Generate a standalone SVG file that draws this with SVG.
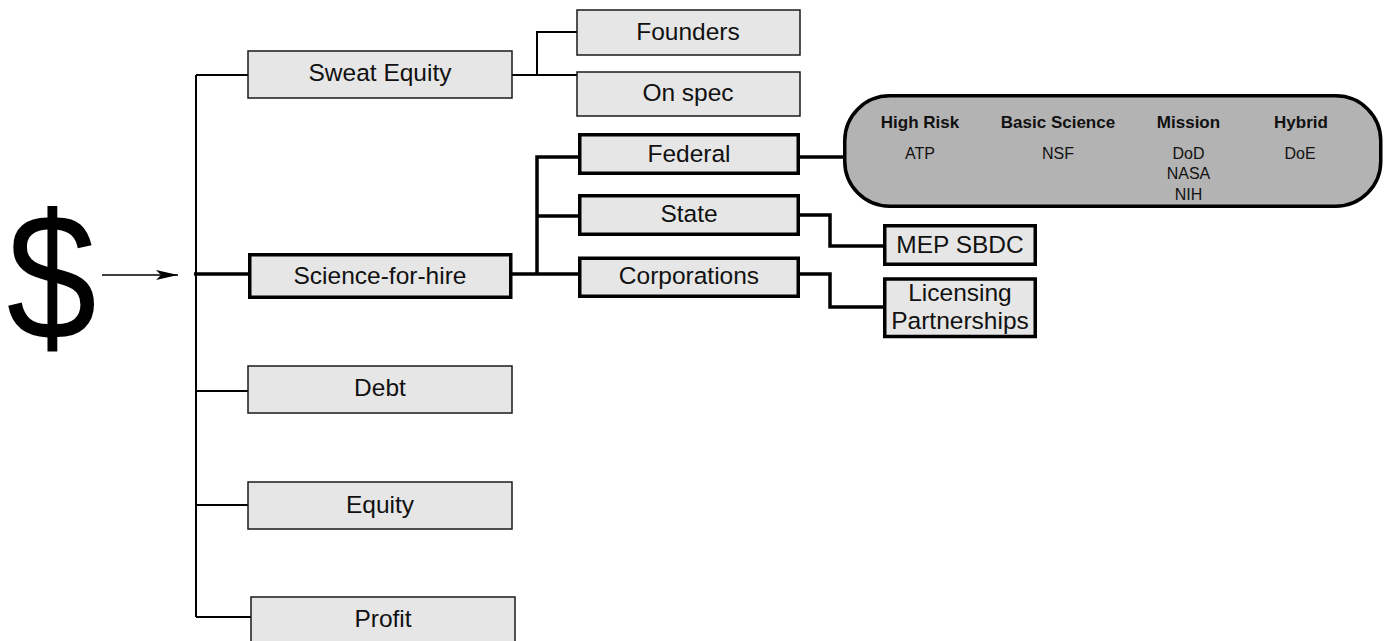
<svg xmlns="http://www.w3.org/2000/svg" width="1394" height="641" viewBox="0 0 1394 641">
  <style>
    .box { fill: #e6e6e6; stroke: #1a1a1a; stroke-width: 1.5; }
    .boxb { fill: #e6e6e6; stroke: #000; stroke-width: 3.5; }
    .lbl { font-family: "Liberation Sans", Arial, sans-serif; font-size: 24.5px; fill: #111; text-anchor: middle; }
    .thin { fill: none; stroke: #000; stroke-width: 2; }
    .thick { fill: none; stroke: #000; stroke-width: 3.5; }
    .hd { font-family: "Liberation Sans", Arial, sans-serif; font-size: 17px; font-weight: bold; fill: #111; text-anchor: middle; }
    .sm { font-family: "Liberation Sans", Arial, sans-serif; font-size: 16px; fill: #111; text-anchor: middle; }
  </style>
  <defs>
    <marker id="arrow" markerWidth="22" markerHeight="10" refX="22" refY="5" orient="auto" markerUnits="userSpaceOnUse">
      <path d="M0,0 L22,5 L0,10 L5,5 Z" fill="#000"/>
    </marker>
  </defs>
  <rect width="1394" height="641" fill="#fff"/>

  <!-- source symbol -->
  <g id="dollar" transform="translate(51.5,0) scale(0.9,1)">
    <text x="0" y="339" font-family="Liberation Sans, Arial, sans-serif" font-size="180" text-anchor="middle" fill="#000">$</text>
  </g>

  <!-- connectors -->
  <g id="connectors">
    <line x1="102" y1="275" x2="178" y2="275" stroke="#000" stroke-width="1.6" marker-end="url(#arrow)"/>
    <!-- main trunk -->
    <path class="thin" d="M196,75 V617"/>
    <path class="thin" d="M196,75 H248"/>
    <path class="thin" d="M196,391 H248"/>
    <path class="thin" d="M196,505 H248"/>
    <path class="thin" d="M196,617 H251"/>
    <path class="thick" d="M194,274 H248"/>
    <!-- sweat equity branch -->
    <path class="thin" d="M512,75 H577"/>
    <path class="thin" d="M537,75 V32 H577"/>
    <!-- science-for-hire branch -->
    <path class="thick" d="M512,274 H578"/>
    <path class="thick" d="M537,274 V157 H578"/>
    <path class="thick" d="M537,216 H578"/>
    <path class="thick" d="M800,157 H843"/>
    <path class="thick" d="M800,215 H830 V246 H883"/>
    <path class="thick" d="M800,274 H830 V307 H883"/>
  </g>

  <g id="sweat-equity">
    <rect class="box" x="248" y="51" width="264" height="47"/>
    <text class="lbl" x="380" y="81">Sweat Equity</text>
  </g>
  <g id="founders">
    <rect class="box" x="577" y="10" width="223" height="45"/>
    <text class="lbl" x="688" y="40">Founders</text>
  </g>
  <g id="on-spec">
    <rect class="box" x="577" y="72" width="223" height="44"/>
    <text class="lbl" x="688" y="101">On spec</text>
  </g>
  <g id="science-for-hire">
    <rect class="boxb" x="249.75" y="254.75" width="261" height="42.5"/>
    <text class="lbl" x="380" y="283.5">Science-for-hire</text>
  </g>
  <g id="federal">
    <rect class="boxb" x="579.75" y="134.75" width="218.5" height="38.5"/>
    <text class="lbl" x="689" y="162">Federal</text>
  </g>
  <g id="state">
    <rect class="boxb" x="579.75" y="195.75" width="218.5" height="38.5"/>
    <text class="lbl" x="689" y="222">State</text>
  </g>
  <g id="corporations">
    <rect class="boxb" x="579.75" y="258.25" width="218.5" height="38"/>
    <text class="lbl" x="689" y="284">Corporations</text>
  </g>
  <g id="federal-programs">
    <rect x="844.75" y="95.75" width="536" height="110.5" rx="45" ry="45" fill="#b3b3b3" stroke="#000" stroke-width="3.5"/>
    <text class="hd" x="920" y="128">High Risk</text>
    <text class="hd" x="1058" y="128">Basic Science</text>
    <text class="hd" x="1188.5" y="128">Mission</text>
    <text class="hd" x="1301" y="128">Hybrid</text>
    <text class="sm" x="920" y="158.5">ATP</text>
    <text class="sm" x="1058" y="158.5">NSF</text>
    <text class="sm" x="1188.5" y="158.5">DoD</text>
    <text class="sm" x="1188.5" y="179">NASA</text>
    <text class="sm" x="1188.5" y="199.5">NIH</text>
    <text class="sm" x="1300" y="158.5">DoE</text>
  </g>
  <g id="mep-sbdc">
    <rect class="boxb" x="884.75" y="225.75" width="150.5" height="38.5"/>
    <text class="lbl" x="960" y="252.5">MEP SBDC</text>
  </g>
  <g id="licensing">
    <rect class="boxb" x="884.75" y="279" width="150.5" height="57.5"/>
    <text class="lbl" x="960" y="300.5">Licensing</text>
    <text class="lbl" x="960" y="328.5">Partnerships</text>
  </g>
  <g id="debt">
    <rect class="box" x="248" y="366" width="264" height="47"/>
    <text class="lbl" x="380" y="396">Debt</text>
  </g>
  <g id="equity">
    <rect class="box" x="248" y="482" width="264" height="47"/>
    <text class="lbl" x="380" y="513">Equity</text>
  </g>
  <g id="profit">
    <rect class="box" x="251" y="597" width="264" height="50"/>
    <text class="lbl" x="383" y="627">Profit</text>
  </g>
</svg>
